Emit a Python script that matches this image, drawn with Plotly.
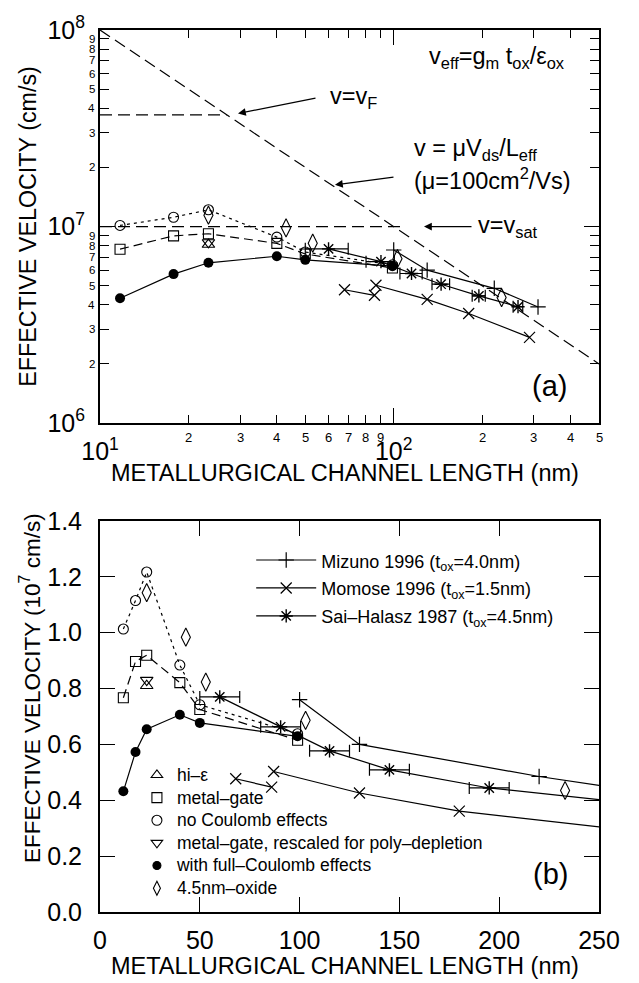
import numpy as np
import plotly.graph_objects as go

# ---------------- data (channel length in nm, velocity in 1e7 cm/s) ----------------
model_L = [11.7, 17.8, 23.4, 40, 50, 99]
full_coulomb_v = [0.432, 0.573, 0.654, 0.706, 0.677, 0.629]
metal_gate_v = [0.767, 0.897, 0.919, 0.821, 0.725, 0.615]
no_coulomb_v = [1.013, 1.115, 1.217, 0.884, 0.742, 0.638]
hi_eps_L = [23.4]
hi_eps_v = [0.81]
rescaled_L = [23.4]
rescaled_v = [0.83]
oxide_L = [23.4, 43, 53, 103, 233]
oxide_v = [1.143, 0.984, 0.823, 0.686, 0.435]
mizuno_L = [100, 130, 220, 310]
mizuno_v = [0.76, 0.60, 0.485, 0.39]
momose_L = [68, 86, None, 87, 130, 180, 290]
momose_v = [0.477, 0.447, None, 0.503, 0.426, 0.361, 0.273]
sai_L = [60, 90.5, 115, 145, 195, 265]
sai_v = [0.77, 0.663, 0.577, 0.509, 0.444, 0.391]
sai_L_err = 10

# reference lines (cm/s)
mu_L = [10, 500]
mu_v = [1e8, 2e6]
vF_L = [10, 27]
vF_v = [3.7e7, 3.7e7]
vsat_L = [10, 110]
vsat_v = [1e7, 1e7]

# tick labels
top_x_major = [10, 100]
top_x_major_text = ["10<sup>1</sup>", "10<sup>2</sup>"]
top_x_minor = [20, 30, 40, 50, 60, 70, 80, 90, 200, 300, 400, 500]
top_y_major = [1e6, 1e7, 1e8]
top_y_major_text = ["10<sup>6</sup>", "10<sup>7</sup>", "10<sup>8</sup>"]
top_y_minor = [2e6, 3e6, 4e6, 5e6, 6e6, 7e6, 8e6, 9e6,
               2e7, 3e7, 4e7, 5e7, 6e7, 7e7, 8e7, 9e7]
bot_x_ticks = [0, 50, 100, 150, 200, 250]
bot_y_ticks = [0.0, 0.2, 0.4, 0.6, 0.8, 1.0, 1.2, 1.4]

FONT = "Liberation Sans, Arial, sans-serif"
K = "black"
LW = 1.2
SCALE = 1e7

fig = go.Figure()


def lg(name, size):
    return '<span style="font-size:%spx">%s</span>' % (size, name)


def add_series(panel, showlegend=False):
    xa, ya = ("x", "y") if panel == 1 else ("x2", "y2")
    s = SCALE if panel == 1 else 1.0

    def sv(vals):
        return [None if v is None else v * s for v in vals]

    common = dict(xaxis=xa, yaxis=ya, hoverinfo="skip")
    # models
    fig.add_trace(go.Scatter(x=model_L, y=sv(no_coulomb_v), mode="lines+markers",
                             line=dict(color=K, width=LW, dash="3px,4px"),
                             marker=dict(symbol="circle-open", size=10, color=K, line=dict(width=1.1, color=K)),
                             showlegend=False, **common))
    fig.add_trace(go.Scatter(x=model_L, y=sv(metal_gate_v), mode="lines+markers",
                             line=dict(color=K, width=LW, dash="9px,5px"),
                             marker=dict(symbol="square-open", size=10, color=K, line=dict(width=1.1, color=K)),
                             showlegend=False, **common))
    fig.add_trace(go.Scatter(x=model_L, y=sv(full_coulomb_v), mode="lines+markers",
                             line=dict(color=K, width=LW),
                             marker=dict(symbol="circle", size=10, color=K),
                             showlegend=False, **common))
    fig.add_trace(go.Scatter(x=hi_eps_L, y=sv(hi_eps_v), mode="markers",
                             marker=dict(symbol="triangle-up-open", size=11, color=K, line=dict(width=1.1, color=K)),
                             showlegend=False, **common))
    fig.add_trace(go.Scatter(x=rescaled_L, y=sv(rescaled_v), mode="markers",
                             marker=dict(symbol="triangle-down-open", size=11, color=K, line=dict(width=1.1, color=K)),
                             showlegend=False, **common))
    fig.add_trace(go.Scatter(x=oxide_L, y=sv(oxide_v), mode="markers",
                             marker=dict(symbol="diamond-tall-open", size=13, color=K, line=dict(width=1.1, color=K)),
                             showlegend=False, **common))
    # experiments
    fig.add_trace(go.Scatter(x=mizuno_L, y=sv(mizuno_v), mode="lines+markers",
                             name=lg("Mizuno 1996 (t<sub>ox</sub>=4.0nm)", 18),
                             line=dict(color=K, width=LW),
                             marker=dict(symbol="cross-thin-open", size=11, color=K, line=dict(width=1.2, color=K)),
                             showlegend=showlegend, legend="legend", **common))
    fig.add_trace(go.Scatter(x=momose_L, y=sv(momose_v), mode="lines+markers",
                             name=lg("Momose 1996 (t<sub>ox</sub>=1.5nm)", 18),
                             line=dict(color=K, width=LW),
                             marker=dict(symbol="x-thin-open", size=11, color=K, line=dict(width=1.2, color=K)),
                             showlegend=showlegend, legend="legend", connectgaps=False, **common))
    fig.add_trace(go.Scatter(x=sai_L, y=sv(sai_v), mode="lines+markers",
                             name=lg("Sai\u2013Halasz 1987 (t<sub>ox</sub>=4.5nm)", 18),
                             line=dict(color=K, width=LW),
                             marker=dict(symbol="asterisk-open", size=11, color=K, line=dict(width=1.4, color=K)),
                             error_x=dict(type="constant", value=sai_L_err, color=K, thickness=1.2, width=6),
                             showlegend=showlegend, legend="legend", **common))


# ---------- top panel reference lines ----------
dash_long = "12px,6px"
fig.add_trace(go.Scatter(x=mu_L, y=mu_v, mode="lines", line=dict(color=K, width=LW, dash=dash_long),
                         xaxis="x", yaxis="y", showlegend=False, hoverinfo="skip"))
fig.add_trace(go.Scatter(x=vF_L, y=vF_v, mode="lines", line=dict(color=K, width=LW, dash=dash_long),
                         xaxis="x", yaxis="y", showlegend=False, hoverinfo="skip"))
fig.add_trace(go.Scatter(x=vsat_L, y=vsat_v, mode="lines", line=dict(color=K, width=LW, dash=dash_long),
                         xaxis="x", yaxis="y", showlegend=False, hoverinfo="skip"))

add_series(1, showlegend=False)
add_series(2, showlegend=True)

# lower-left legend (symbols only)
legend2_items = [
    ("triangle-up-open", "hi\u2013\u03b5"),
    ("square-open", "metal\u2013gate"),
    ("circle-open", "no Coulomb effects"),
    ("triangle-down-open", "metal\u2013gate, rescaled for poly\u2013depletion"),
    ("circle", "with full\u2013Coulomb effects"),
    ("diamond-tall-open", "4.5nm\u2013oxide"),
]
for sym, label in legend2_items:
    fig.add_trace(go.Scatter(x=[None], y=[None], mode="markers", name=lg(label, 17.5),
                             marker=dict(symbol=sym, size=10 if sym != "circle" else 8, color=K,
                                         line=dict(width=1.1, color=K)),
                             xaxis="x2", yaxis="y2", legend="legend2", showlegend=True))

axis_common = dict(showline=True, linecolor=K, linewidth=2, mirror="ticks", ticks="inside",
                   tickcolor=K, tickwidth=1.2, showgrid=False, zeroline=False)

top_dom = [0.5543, 1.0]
bot_dom = [0.0, 0.4434]

fig.update_layout(
    width=639, height=983,
    margin=dict(l=100, r=40, t=19, b=71),
    paper_bgcolor="white", plot_bgcolor="white",
    font=dict(family=FONT, color=K),
    xaxis=dict(type="log", range=[1, np.log10(500)], domain=[0, 1], anchor="y",
               tickmode="array", tickvals=top_x_major, ticktext=top_x_major_text,
               ticklen=15, tickfont=dict(size=25), ticklabelstandoff=5,
               minor=dict(tickmode="array", tickvals=top_x_minor, ticks="inside", ticklen=8,
                          tickcolor=K, tickwidth=1.2),
               **axis_common),
    yaxis=dict(type="log", range=[6, 8], domain=top_dom, anchor="x",
               tickmode="array", tickvals=top_y_major, ticktext=top_y_major_text,
               ticklen=15, tickfont=dict(size=25), ticklabelstandoff=8,
               minor=dict(tickmode="array", tickvals=top_y_minor, ticks="inside", ticklen=9,
                          tickcolor=K, tickwidth=1.2),
               **axis_common),
    xaxis2=dict(range=[0, 250], domain=[0, 1], anchor="y2",
                tickmode="array", tickvals=bot_x_ticks, ticklen=15,
                tickfont=dict(size=25), ticklabelstandoff=5, **axis_common),
    yaxis2=dict(range=[0, 1.4], domain=bot_dom, anchor="x2",
                tickmode="array", tickvals=bot_y_ticks, tickformat=".1f", ticklen=15,
                tickfont=dict(size=25), ticklabelstandoff=11, **axis_common),
    legend=dict(x=0.303, y=0.4206, xanchor="left", yanchor="top", bgcolor="rgba(0,0,0,0)",
                font=dict(size=19.2, family=FONT), itemwidth=60, tracegroupgap=0),
    legend2=dict(x=0.074, y=0.1738, xanchor="left", yanchor="top", bgcolor="rgba(0,0,0,0)",
                 font=dict(size=15.1, family=FONT), tracegroupgap=0),
)

annotations = []
# minor digit labels for top panel
for v in top_x_minor:
    annotations.append(dict(x=np.log10(v), xref="x", y=0, yref="y domain", yanchor="top",
                            yshift=-5, text=str(int(round(v / 10 ** np.floor(np.log10(v))))),
                            showarrow=False, font=dict(size=13)))
for v in top_y_minor:
    annotations.append(dict(y=np.log10(v), yref="y", x=0, xref="x domain", xanchor="right",
                            xshift=-3, text=str(int(round(v / 10 ** np.floor(np.log10(v))))),
                            showarrow=False, font=dict(size=11.5)))

# axis titles
xtitle = "METALLURGICAL CHANNEL LENGTH (nm)"
annotations += [
    dict(text=xtitle, x=0.49, xref="x domain", y=-0.128, yref="y domain",
         xanchor="center", yanchor="middle", showarrow=False, font=dict(size=23.5)),
    dict(text=xtitle, x=0.49, xref="x2 domain", y=-0.139, yref="y2 domain",
         xanchor="center", yanchor="middle", showarrow=False, font=dict(size=23.5)),
    dict(text="EFFECTIVE VELOCITY (cm/s)", x=-0.1443, xref="paper", y=0.502, yref="y domain",
         xanchor="center", yanchor="middle", textangle=-90, showarrow=False, font=dict(size=23.3)),
    dict(text="EFFECTIVE VELOCITY (10<sup>7</sup> cm/s)", x=-0.140, xref="paper", y=0.573,
         yref="y2 domain", xanchor="center", yanchor="middle", textangle=-90, showarrow=False,
         font=dict(size=22.5)),
]

# top-panel texts
TF = 23.5
annotations += [
    dict(text="v<sub>eff</sub>=g<sub>m</sub> t<sub>ox</sub>/\u03b5<sub>ox</sub>", x=0.936, xref="x domain",
         y=0.931, yref="y domain", xanchor="right", yanchor="middle", showarrow=False, font=dict(size=TF)),
    dict(text="v=v<sub>F</sub>", x=0.457, xref="x domain", y=0.828, yref="y domain",
         xanchor="left", yanchor="middle", showarrow=False, font=dict(size=TF)),
    dict(text="v = \u03bcV<sub>ds</sub>/L<sub>eff</sub>", x=0.625, xref="x domain", y=0.697, yref="y domain",
         xanchor="left", yanchor="middle", showarrow=False, font=dict(size=TF)),
    dict(text="(\u03bc=100cm<sup>2</sup>/Vs)", x=0.625, xref="x domain", y=0.621, yref="y domain",
         xanchor="left", yanchor="middle", showarrow=False, font=dict(size=TF)),
    dict(text="v=v<sub>sat</sub>", x=0.753, xref="x domain", y=0.5006, yref="y domain",
         xanchor="left", yanchor="middle", showarrow=False, font=dict(size=TF)),
    dict(text="(a)", x=0.9, xref="x domain", y=0.095, yref="y domain",
         xanchor="center", yanchor="middle", showarrow=False, font=dict(size=29)),
    dict(text="(b)", x=0.902, xref="x2 domain", y=0.097, yref="y2 domain",
         xanchor="center", yanchor="middle", showarrow=False, font=dict(size=29)),
]

# arrows (log10 coordinates on the log axes)
arrows = [
    ((29.5, 3.76e7), (54.8, 4.52e7)),
    ((63.1, 1.63e7), (101.0, 1.79e7)),
    ((126.8, 1.0e7), (186.2, 1.0e7)),
]
for (tx, ty), (sx, sy) in arrows:
    annotations.append(dict(x=np.log10(tx), y=np.log10(ty), xref="x", yref="y",
                            ax=np.log10(sx), ay=np.log10(sy), axref="x", ayref="y",
                            text="", showarrow=True, arrowhead=2, arrowsize=1.3,
                            arrowwidth=1.2, arrowcolor=K))

fig.update_layout(annotations=annotations)

fig.write_html("out.html")
